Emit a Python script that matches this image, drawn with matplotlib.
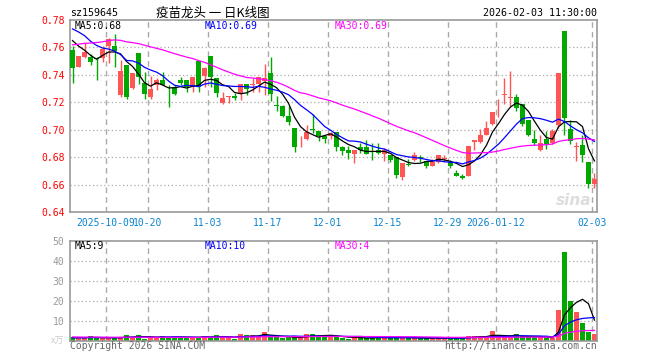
import numpy as np
import pandas as pd
import matplotlib
matplotlib.use("Agg")
import matplotlib.pyplot as plt

# ---------------- data ----------------
code = "sz159645"
title = "疫苗龙头 一 日K线图"
stamp = "2026-02-03 11:30:00"

tick_idx = [6, 13, 23, 33, 43, 53, 63, 71, 87]
tick_labels = ["2025-10-09", "10-20", "11-03", "11-17", "12-01", "12-15",
               "12-29", "2026-01-12", "02-03"]

open_ = [0.758, 0.746, 0.753, 0.7528, 0.752, 0.7523, 0.7612, 0.761, 0.725, 0.7474,
         0.7301, 0.7558, 0.7341, 0.7235, 0.7328, 0.736, 0.7284, 0.7311, 0.7365, 0.7365,
         0.7311, 0.7501, 0.739, 0.7536, 0.738, 0.7198, 0.7235, 0.7247, 0.7259, 0.7336,
         0.7325, 0.7331, 0.7353, 0.741, 0.7178, 0.7173, 0.7099, 0.7016, 0.6908, 0.6935,
         0.7006, 0.6994, 0.6952, 0.6957, 0.6984, 0.6872, 0.6854, 0.6825, 0.6874, 0.6874,
         0.6854, 0.6854, 0.6825, 0.6818, 0.680, 0.6654, 0.675, 0.6779, 0.6803, 0.6774,
         0.6737, 0.6762, 0.6784, 0.6762, 0.6683, 0.6666, 0.6664, 0.691, 0.6908, 0.6964,
         0.7045, 0.7184, 0.7255, 0.7232, 0.7238, 0.7184, 0.7074, 0.6935, 0.6854, 0.6935,
         0.6904, 0.7038, 0.7722, 0.7008, 0.6874, 0.6886, 0.6761, 0.6603]
high = [0.761, 0.754, 0.763, 0.755, 0.7533, 0.7607, 0.7669, 0.7699, 0.7509, 0.7474,
        0.7415, 0.7558, 0.742, 0.739, 0.738, 0.742, 0.7328, 0.7326, 0.7385, 0.7365,
        0.7388, 0.7501, 0.7457, 0.7536, 0.738, 0.7277, 0.7247, 0.7267, 0.7336, 0.7336,
        0.7378, 0.7388, 0.7477, 0.7528, 0.7247, 0.7178, 0.7173, 0.7016, 0.6952, 0.7033,
        0.7118, 0.6994, 0.6957, 0.6986, 0.6984, 0.6884, 0.6879, 0.6854, 0.6903, 0.6923,
        0.6903, 0.6903, 0.6867, 0.6818, 0.680, 0.6757, 0.6786, 0.6835, 0.6818, 0.6774,
        0.6786, 0.6818, 0.6815, 0.6781, 0.6708, 0.6678, 0.6884, 0.6928, 0.7006, 0.706,
        0.7128, 0.7226, 0.738, 0.7428, 0.7263, 0.7184, 0.7074, 0.6999, 0.6964, 0.6994,
        0.7006, 0.7412, 0.7722, 0.7069, 0.6911, 0.6964, 0.6761, 0.6684]
low = [0.734, 0.7457, 0.7526, 0.747, 0.736, 0.7494, 0.7486, 0.7457, 0.7242, 0.7227,
       0.7296, 0.7336, 0.7225, 0.7227, 0.7291, 0.7328, 0.7168, 0.725, 0.7328, 0.7272,
       0.7272, 0.7272, 0.7311, 0.7311, 0.7242, 0.719, 0.7198, 0.7217, 0.7217, 0.725,
       0.7272, 0.7272, 0.7254, 0.7212, 0.714, 0.7094, 0.7037, 0.684, 0.6872, 0.6928,
       0.6974, 0.692, 0.6903, 0.6933, 0.6847, 0.6813, 0.6788, 0.6754, 0.683, 0.6823,
       0.6781, 0.6823, 0.6769, 0.6766, 0.665, 0.6634, 0.6737, 0.6774, 0.6764, 0.6718,
       0.6732, 0.6757, 0.6767, 0.6718, 0.6659, 0.6642, 0.6659, 0.6849, 0.6903, 0.6959,
       0.7038, 0.7094, 0.719, 0.717, 0.714, 0.703, 0.6952, 0.6886, 0.6847, 0.6862,
       0.6896, 0.7013, 0.6964, 0.6896, 0.6769, 0.6761, 0.6578, 0.6578]
close = [0.745, 0.754, 0.757, 0.7494, 0.7515, 0.7588, 0.7664, 0.7575, 0.7425, 0.7235,
         0.741, 0.7385, 0.7259, 0.7299, 0.736, 0.7328, 0.7279, 0.7262, 0.7341, 0.7311,
         0.7388, 0.7311, 0.7447, 0.7383, 0.7267, 0.7232, 0.7247, 0.723, 0.7336, 0.7299,
         0.7335, 0.7388, 0.7378, 0.7259, 0.7173, 0.7099, 0.7054, 0.6874, 0.6913, 0.6986,
         0.6996, 0.6957, 0.6935, 0.6977, 0.6872, 0.6847, 0.6828, 0.6854, 0.6854, 0.6823,
         0.6849, 0.683, 0.6854, 0.6781, 0.667, 0.6757, 0.6742, 0.6818, 0.6791, 0.6737,
         0.6762, 0.6818, 0.6791, 0.6737, 0.6664, 0.6647, 0.6884, 0.6928, 0.6964, 0.7013,
         0.7128, 0.7189, 0.7262, 0.7236, 0.716, 0.7045, 0.6964, 0.6904, 0.6904, 0.6896,
         0.6989, 0.7412, 0.7087, 0.6915, 0.6884, 0.6818, 0.6603, 0.664]
# volume, 万
volume = [1.7, 1.3, 1.3, 2.3, 1.5, 1.3, 1.3, 1.3, 2.0, 2.8,
          1.7, 2.8, 0.8, 1.7, 1.7, 2.3, 1.7, 1.7, 1.7, 1.7,
          1.7, 1.7, 2.3, 1.7, 2.8, 1.7, 1.7, 0.8, 3.3, 2.8,
          2.8, 2.3, 4.3, 1.7, 1.7, 1.3, 1.7, 1.7, 1.7, 3.3,
          3.3, 2.3, 2.3, 2.3, 2.3, 1.3, 0.8, 1.7, 1.7, 1.3,
          1.3, 1.7, 1.7, 1.7, 1.7, 1.3, 1.3, 1.3, 1.3, 1.3,
          1.3, 1.3, 1.3, 1.3, 1.3, 1.7, 2.3, 2.3, 2.3, 1.7,
          4.8, 2.3, 1.7, 1.7, 3.3, 2.3, 1.7, 1.7, 1.7, 1.3,
          1.3, 15.5, 44.5, 20.0, 14.5, 9.0, 4.5, 3.5]

# closes / volumes before the window, estimated from where the MA lines start
prior_close = [0.738, 0.740, 0.742, 0.741, 0.743, 0.740, 0.742,
               0.752, 0.756, 0.760, 0.758, 0.762, 0.765, 0.768, 0.766, 0.770,
               0.768, 0.772, 0.768, 0.770,
               0.776, 0.784, 0.790, 0.782, 0.778,
               0.774, 0.772, 0.768, 0.766]
prior_vol = [2.0, 2.2, 1.9, 2.1, 2.3, 2.0, 1.8, 2.2, 2.4, 2.0,
             1.9, 2.1, 2.0, 2.2, 1.8, 2.0, 2.3, 2.1, 1.9, 2.0,
             1.3, 1.2, 1.4, 1.3, 1.5, 1.4, 1.6, 1.5, 1.7]

ma_labels = ["MA5:0.68", "MA10:0.69", "MA30:0.69"]
vol_ma_labels = ["MA5:9", "MA10:10", "MA30:4"]

# ---------------- style ----------------
RED = "#ff5555"
GREEN = "#00a800"
GRID = "#aaaaaa"
EDGE = "#999999"
MA_COLORS = ["black", "blue", "#ff00ff"]
MONO = ["DejaVu Sans Mono"]
W, H = 660, 360


def fx(px):
    return px / W


def fy(py):
    return 1 - py / H


x = np.arange(len(close))
o = np.array(open_)
c = np.array(close)
up = c >= o
colors = np.where(up, RED, GREEN)

full_c = pd.Series(prior_close + close)
full_v = pd.Series(prior_vol + volume)
n0 = len(prior_close)

fig = plt.figure(figsize=(6.6, 3.6), dpi=100)
ax = fig.add_axes([fx(70), fy(212), fx(527), 192 / H])
axv = fig.add_axes([fx(70), fy(340.7), fx(527), 100 / H])

xlim = (-0.42, len(close) - 0.58)

# ---------------- price panel ----------------
for lv in [0.66, 0.68, 0.70, 0.72, 0.74, 0.76]:
    ax.axhline(lv, color=GRID, lw=0.9, ls=(0, (1, 2)), zorder=0)
for t in tick_idx:
    ax.axvline(t - 0.42, color=GRID, lw=1, ls=(0, (4, 3)), zorder=0)

ax.vlines(x, low, high, colors=colors, lw=1, zorder=2)
body = np.maximum(np.abs(c - o), 0.0004)
ax.bar(x, body, bottom=np.minimum(o, c), width=0.8, color=colors, lw=0, zorder=3)

for n, col in zip([5, 10, 30], MA_COLORS):
    ma = full_c.rolling(n).mean().values[n0:]
    ax.plot(x, ma, color=col, lw=0.9, zorder=4)

ax.set_xlim(*xlim)
ax.set_ylim(0.64, 0.78)
ax.set_yticks([0.64, 0.66, 0.68, 0.70, 0.72, 0.74, 0.76, 0.78])
ax.set_yticklabels([f"{v:.2f}" for v in [0.64, 0.66, 0.68, 0.70, 0.72, 0.74, 0.76, 0.78]],
                   family=MONO, fontsize=7, color="red")
ax.set_xticks([t - 0.42 for t in tick_idx])
ax.set_xticklabels(tick_labels, family=MONO, fontsize=7, color="#0a84d0")
ax.tick_params(length=0, pad=4)
for s in ax.spines.values():
    s.set_color(EDGE)
    s.set_linewidth(1.2)

for lab, col, px in zip(ma_labels, MA_COLORS, [75, 205, 335]):
    fig.text(fx(px), fy(26), lab, color=col, family=MONO, fontsize=7, va="center")

ax.text(0.955, 0.06, "sina", transform=ax.transAxes, color="#dddddd",
        fontsize=11, fontweight="bold", style="italic", ha="center", va="center", zorder=1)

# ---------------- volume panel ----------------
for lv in [10, 20, 30, 40]:
    axv.axhline(lv, color=GRID, lw=0.9, ls=(0, (1, 2)), zorder=0)
for t in tick_idx:
    axv.axvline(t - 0.42, color=GRID, lw=1, ls=(0, (4, 3)), zorder=0)

axv.bar(x, volume, width=0.8, color=colors, lw=0, zorder=2)
for n, col in zip([5, 10, 30], MA_COLORS):
    ma = full_v.rolling(n).mean().values[n0:]
    axv.plot(x, ma, color=col, lw=0.9, zorder=3)

axv.set_xlim(*xlim)
axv.set_ylim(0, 50)
axv.set_yticks([10, 20, 30, 40, 50])
axv.set_yticklabels(["10", "20", "30", "40", "50"], family=MONO, fontsize=7, color="#999999")
axv.set_xticks([])
axv.tick_params(length=0, pad=4)
for s in axv.spines.values():
    s.set_color(EDGE)
    s.set_linewidth(1.2)

for lab, col, px in zip(vol_ma_labels, MA_COLORS, [75, 205, 335]):
    fig.text(fx(px), fy(246), lab, color=col, family=MONO, fontsize=7, va="center")

fig.text(fx(64), fy(341), "x万", color="#cccccc", family=["Noto Sans CJK SC", "DejaVu Sans"],
         fontsize=6.5, ha="right", va="center")

# ---------------- header / footer ----------------
fig.text(fx(70), fy(13), code, family=MONO, fontsize=7.2, va="center")
fig.text(fx(213), fy(13), title, family=["Noto Sans CJK SC", "DejaVu Sans"],
         fontsize=9, ha="center", va="center")
fig.text(fx(597), fy(13), stamp, family=MONO, fontsize=7.2, ha="right", va="center")
fig.text(fx(70), fy(346), "Copyright 2026 SINA.COM", family=MONO, fontsize=7,
         color="#666666", va="center")
fig.text(fx(597), fy(346), "http://finance.sina.com.cn", family=MONO, fontsize=7,
         color="#666666", ha="right", va="center")

fig.savefig("out.png", dpi=100, facecolor="white")
